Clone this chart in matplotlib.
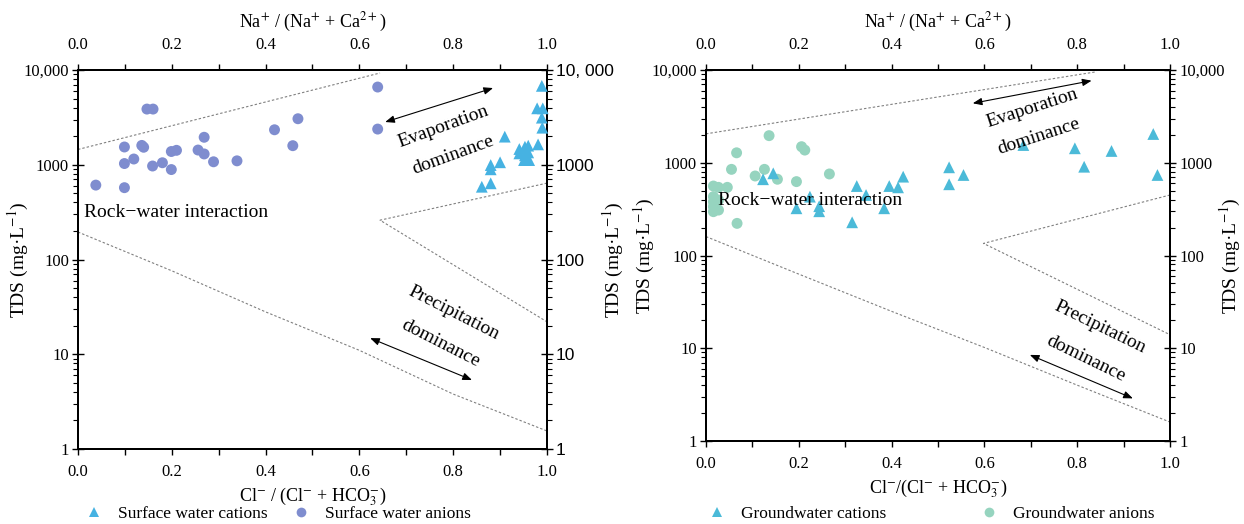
import matplotlib
matplotlib.use("Agg")
import matplotlib.pyplot as plt
from matplotlib.lines import Line2D
from matplotlib.ticker import FixedLocator, FixedFormatter, LogLocator, NullFormatter, MultipleLocator

plt.rcParams['font.family'] = ['Liberation Serif', 'DejaVu Serif']
plt.rcParams['mathtext.fontset'] = 'stix'

# ---------------- surface water (left panel) ----------------
sw_anion_ratio = [0.038, 0.099, 0.099, 0.099, 0.119, 0.136, 0.140, 0.147, 0.160, 0.159,
                  0.180, 0.199, 0.210, 0.199, 0.256, 0.269, 0.269, 0.289, 0.339, 0.419,
                  0.458, 0.469, 0.639, 0.639]
sw_anion_tds = [610, 1540, 1030, 573, 1150, 1600, 1530, 3870, 3870, 970,
                1050, 1380, 1420, 890, 1430, 1950, 1300, 1075, 1100, 2340,
                1590, 3060, 6610, 2380]

sw_cation_ratio = [0.989, 0.979, 0.991, 0.989, 0.990, 0.910, 0.981, 0.941, 0.953, 0.960,
                   0.941, 0.953, 0.960, 0.951, 0.962, 0.900, 0.880, 0.880, 0.861, 0.880]
sw_cation_tds = [6800, 3940, 3940, 3140, 2460, 1980, 1640, 1466, 1550, 1590,
                 1318, 1260, 1350, 1120, 1120, 1062, 993, 895, 586, 637]

# ---------------- groundwater (right panel) ----------------
gw_anion_ratio = [0.136, 0.066, 0.213, 0.206, 0.055, 0.106, 0.126, 0.154, 0.195, 0.266,
                  0.016, 0.027, 0.046, 0.016, 0.016, 0.016, 0.016, 0.027, 0.027, 0.067]
gw_anion_tds = [1960, 1280, 1370, 1490, 849, 720, 849, 664, 626, 757,
                561, 543, 543, 431, 380, 336, 297, 396, 309, 222]

gw_cation_ratio = [0.123, 0.145, 0.195, 0.224, 0.244, 0.244, 0.315, 0.325, 0.345, 0.384,
                   0.395, 0.414, 0.425, 0.524, 0.524, 0.555, 0.684, 0.795, 0.815, 0.874,
                   0.964, 0.973]
gw_cation_tds = [664, 769, 323, 431, 340, 300, 228, 561, 449, 323,
                 561, 543, 708, 893, 586, 738, 1553, 1432, 906, 1340,
                 2042, 738]

# ---------------- Gibbs boundary curves ----------------
sw_upper_x, sw_upper_y = [0.0, 0.644], [1450, 9300]
sw_lower_x = [0.0, 0.2, 0.4, 0.6, 0.8, 1.0]
sw_lower_y = [195, 76, 28, 11, 3.8, 1.55]
sw_inner_x = [1.0, 0.644, 1.0]
sw_inner_y = [640, 260, 22]

gw_upper_x, gw_upper_y = [0.0, 0.842], [2050, 9580]
gw_lower_x = [0.0, 0.2, 0.4, 0.6, 0.8, 1.0]
gw_lower_y = [160, 63, 25, 10.2, 4.0, 1.6]
gw_inner_x = [1.0, 0.598, 1.0]
gw_inner_y = [449, 135, 14]

tds_ticks = [1, 10, 100, 1000, 10000]
tds_labels = ['1', '10', '100', '1000', '10,000']
tds_labels_alt = ['1', '10', '100', '1000', '10, 000']
ratio_ticks = [0.0, 0.2, 0.4, 0.6, 0.8, 1.0]
ratio_labels = ['0.0', '0.2', '0.4', '0.6', '0.8', '1.0']

c_sw_cat = '#46b2e2'
c_sw_an = '#7f8dcf'
c_gw_cat = '#4bbad8'
c_gw_an = '#96d4bf'
line_col = '#808080'

TICK_FS = 12
LABEL_FS = 13
YLABEL_FS = 14
NOTE_FS = 14


def style_log_y(axis, labels):
    axis.set_major_locator(FixedLocator(tds_ticks))
    axis.set_major_formatter(FixedFormatter(labels))
    axis.set_minor_locator(LogLocator(base=10, subs=range(2, 10), numticks=20))
    axis.set_minor_formatter(NullFormatter())


def build_panel(ax, xlabel, right_labels, right_family, anion_x, anion_y, an_col,
                cation_x, cation_y, cat_col, bnd, notes, ylab_x):
    ax.set_yscale('log')
    ax.set_xlim(0, 1)
    ax.set_ylim(1, 10000)

    for bx, by in bnd:
        ax.plot(bx, by, color=line_col, lw=0.8, ls=(0, (2.2, 1.8)), zorder=1)

    ax.scatter(anion_x, anion_y, s=62, marker='o', color=an_col, edgecolors='none', zorder=3)

    axr = ax.twinx()
    axr.set_yscale('log')
    axr.set_ylim(1, 10000)
    axt = ax.twiny()
    axt.set_xlim(0, 1)

    axt.scatter(cation_x, cation_y, s=72, marker='^', color=cat_col, edgecolors='none',
                zorder=3, clip_on=False)

    for a, pad in ((ax, 6), (axt, 8)):
        a.xaxis.set_major_locator(FixedLocator(ratio_ticks))
        a.xaxis.set_major_formatter(FixedFormatter(ratio_labels))
        a.xaxis.set_minor_locator(MultipleLocator(0.1))
        a.tick_params(axis='x', which='both', direction='out', length=4.5, width=1.0,
                      labelsize=TICK_FS, pad=pad)
    style_log_y(ax.yaxis, tds_labels)
    style_log_y(axr.yaxis, right_labels)
    for a in (ax, axr):
        a.tick_params(axis='y', which='major', direction='inout', length=9, width=1.0,
                      labelsize=TICK_FS, pad=2)
        a.tick_params(axis='y', which='minor', direction='out', length=3.5, width=0.8)
    if right_family:
        for lab in axr.get_yticklabels():
            lab.set_fontfamily(right_family)
            lab.set_fontsize(12.5)

    for a in (ax, axr, axt):
        for sp in a.spines.values():
            sp.set_linewidth(1.3)

    ax.set_xlabel(xlabel, fontsize=LABEL_FS, labelpad=4)
    axt.set_xlabel('Na$^{+}$ / (Na$^{+}$ + Ca$^{2+}$)', fontsize=LABEL_FS, labelpad=7)
    ax.set_ylabel('TDS (mg·L$^{-1}$)', fontsize=YLABEL_FS)
    axr.set_ylabel('TDS (mg·L$^{-1}$)', fontsize=YLABEL_FS)
    ax.yaxis.set_label_coords(ylab_x[0], 0.5)
    axr.yaxis.set_label_coords(ylab_x[1], 0.5)

    rw, ev, evd, pr, prd, ev_arrow, pr_arrow, ev_rot, pr_rot = notes
    axt.text(rw[0], rw[1], 'Rock\u2212water interaction', fontsize=NOTE_FS,
             ha='left', va='center', zorder=6)
    axt.text(ev[0], ev[1], 'Evaporation', fontsize=NOTE_FS, rotation=ev_rot,
             rotation_mode='anchor', ha='center', va='center', zorder=6)
    axt.text(evd[0], evd[1], 'dominance', fontsize=NOTE_FS, rotation=ev_rot,
             rotation_mode='anchor', ha='center', va='center', zorder=6)
    axt.text(pr[0], pr[1], 'Precipitation', fontsize=NOTE_FS, rotation=pr_rot,
             rotation_mode='anchor', ha='center', va='center', zorder=6)
    axt.text(prd[0], prd[1], 'dominance', fontsize=NOTE_FS, rotation=pr_rot,
             rotation_mode='anchor', ha='center', va='center', zorder=6)
    for (p0, p1) in (ev_arrow, pr_arrow):
        axt.annotate('', xy=p1, xytext=p0,
                     arrowprops=dict(arrowstyle='<|-|>,head_length=0.55,head_width=0.22',
                                     color='black', lw=0.8, shrinkA=0, shrinkB=0),
                     zorder=6)
    return ax, axr, axt


fig = plt.figure(figsize=(12.44, 5.24), dpi=100)
ax1 = fig.add_axes([0.0627, 0.1431, 0.3770, 0.7233])
ax2 = fig.add_axes([0.5675, 0.1584, 0.3730, 0.7080])

build_panel(ax1, 'Cl$^{-}$ / (Cl$^{-}$ + HCO$_{3}^{-}$)', tds_labels_alt, 'Liberation Sans',
            sw_anion_ratio, sw_anion_tds, c_sw_an, sw_cation_ratio, sw_cation_tds, c_sw_cat,
            [(sw_upper_x, sw_upper_y), (sw_lower_x, sw_lower_y), (sw_inner_x, sw_inner_y)],
            ((0.013, 310), (0.778, 2500), (0.80, 1268), (0.80, 27.2), (0.772, 12.9),
             ((0.655, 2825), (0.885, 6450)), ((0.623, 14.8), (0.840, 5.35)), 20, -27),
            (-0.100, 1.115))

build_panel(ax2, 'Cl$^{-}$/(Cl$^{-}$ + HCO$_{3}^{-}$)', tds_labels, None,
            gw_anion_ratio, gw_anion_tds, c_gw_an, gw_cation_ratio, gw_cation_tds, c_gw_cat,
            [(gw_upper_x, gw_upper_y), (gw_lower_x, gw_lower_y), (gw_inner_x, gw_inner_y)],
            ((0.026, 396), (0.702, 3890), (0.718, 1897), (0.849, 16.7), (0.819, 7.69),
             ((0.575, 4375), (0.831, 7670)), ((0.698, 8.48), (0.920, 2.88)), 18, -26),
            (-0.106, 1.103))

# legend entries placed under each panel
LEG_FS = 12.5
W, H = 1244.0, 524.0


def legend_item(marker, color, label, px, py):
    h = Line2D([], [], marker=marker, color=color, ls='none', markersize=7,
               markeredgewidth=0)
    off = 0.5 * LEG_FS * 100 / 72.0
    fig.legend(handles=[h], labels=[label], loc='center left',
               bbox_to_anchor=((px - off) / W, 1 - py / H), frameon=False,
               fontsize=LEG_FS, handlelength=1.0, handletextpad=0.9,
               borderpad=0, borderaxespad=0)


legend_item('^', c_sw_cat, 'Surface water cations', 94, 514)
legend_item('o', c_sw_an, 'Surface water anions', 301, 514)
legend_item('^', c_gw_cat, 'Groundwater cations', 717, 514)
legend_item('o', c_gw_an, 'Groundwater anions', 989, 514)

fig.savefig('out.png', dpi=100)
